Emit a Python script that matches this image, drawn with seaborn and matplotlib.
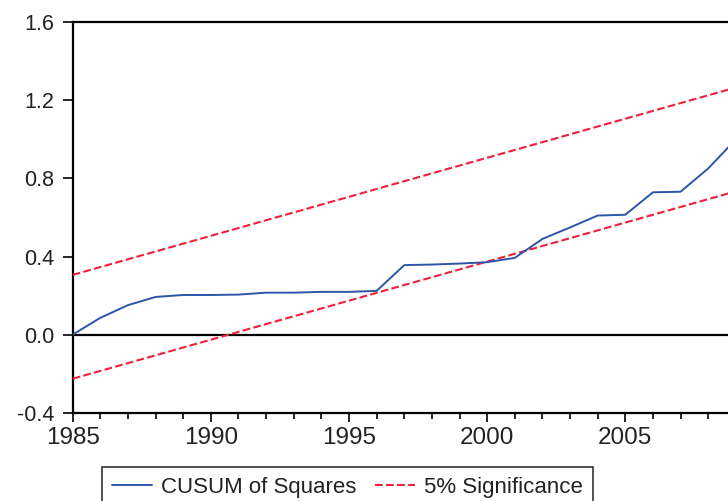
import matplotlib
matplotlib.use("Agg")
import matplotlib.pyplot as plt
import seaborn as sns
import pandas as pd
from matplotlib.ticker import MultipleLocator, FixedLocator

years = list(range(1985, 2010))
cusum_sq = [0.000, 0.086, 0.151, 0.193, 0.203, 0.203, 0.205, 0.215, 0.215, 0.219,
            0.219, 0.224, 0.356, 0.359, 0.364, 0.371, 0.393, 0.490, 0.549, 0.610,
            0.614, 0.729, 0.732, 0.851, 1.000]
upper_5 = [0.306, 0.346, 0.386, 0.426, 0.466, 0.506, 0.546, 0.586, 0.626, 0.666,
           0.706, 0.746, 0.786, 0.826, 0.866, 0.906, 0.946, 0.986, 1.026, 1.066,
           1.106, 1.146, 1.186, 1.226, 1.266]
lower_5 = [-0.226, -0.186, -0.146, -0.106, -0.066, -0.026, 0.014, 0.054, 0.094, 0.134,
           0.174, 0.214, 0.254, 0.294, 0.334, 0.374, 0.414, 0.454, 0.494, 0.534,
           0.574, 0.614, 0.654, 0.694, 0.734]
y_ticks = [-0.4, 0.0, 0.4, 0.8, 1.2, 1.6]
y_tick_labels = ["-0.4", "0.0", "0.4", "0.8", "1.2", "1.6"]
x_ticks = [1985, 1990, 1995, 2000, 2005]
series_names = ["CUSUM of Squares", "5% Significance"]

sns.set_theme(style="ticks")
plt.rcParams["font.family"] = ["Liberation Sans", "DejaVu Sans"]

df = pd.DataFrame({"year": years, "cusum": cusum_sq, "upper": upper_5, "lower": lower_5})

fig = plt.figure(figsize=(7.28, 5.01), dpi=100)
ax = fig.add_axes([72.7 / 728, 1 - 412.7 / 501, 663.1 / 728, 390.4 / 501])

blue = "#2D55A8"
red = "#F0203C"

ax.axhline(0, color="black", lw=1.6, zorder=1)
sns.lineplot(data=df, x="year", y="upper", ax=ax, color=red, lw=1.5,
             linestyle="--", dashes=(3.8, 1.6), label=series_names[1], zorder=3)
sns.lineplot(data=df, x="year", y="lower", ax=ax, color=red, lw=1.5,
             linestyle="--", dashes=(3.8, 1.6), label="_nolegend_", zorder=3)
sns.lineplot(data=df, x="year", y="cusum", ax=ax, color=blue, lw=1.4,
             label=series_names[0], zorder=4)

ax.set_xlim(1985, 2009)
ax.set_ylim(-0.4, 1.6)
ax.set_xlabel("")
ax.set_ylabel("")

ax.yaxis.set_major_locator(FixedLocator(y_ticks))
ax.set_yticklabels(y_tick_labels)
ax.xaxis.set_major_locator(FixedLocator(x_ticks))
ax.xaxis.set_minor_locator(MultipleLocator(1))

for s in ax.spines.values():
    s.set_color("black")
    s.set_linewidth(1.6)
ax.spines["right"].set_visible(False)

ax.tick_params(axis="y", which="major", direction="out", length=7.2, width=1.2,
               color="black", labelsize=15.5, pad=6, labelcolor="#222222")
ax.tick_params(axis="x", which="major", direction="out", length=6.5, width=1.2,
               color="black", labelsize=17.5, pad=3.5, labelcolor="#222222")
ax.tick_params(axis="x", which="minor", direction="out", length=4.5, width=1.2,
               color="black")

ax.get_legend().remove()
h, l = ax.get_legend_handles_labels()
order = [l.index(series_names[0]), l.index(series_names[1])]
leg = fig.legend([h[i] for i in order], [l[i] for i in order],
                 loc="upper left", bbox_to_anchor=(102 / 728, 1 - 467 / 501),
                 ncol=2, fontsize=16, frameon=True, fancybox=False,
                 handlelength=1.8, handletextpad=0.4, columnspacing=0.85,
                 borderpad=0.45, borderaxespad=0)
leg.get_frame().set_edgecolor("black")
leg.get_frame().set_linewidth(1.2)
for t in leg.get_texts():
    t.set_color("#222222")

fig.savefig("out.png", dpi=100)
